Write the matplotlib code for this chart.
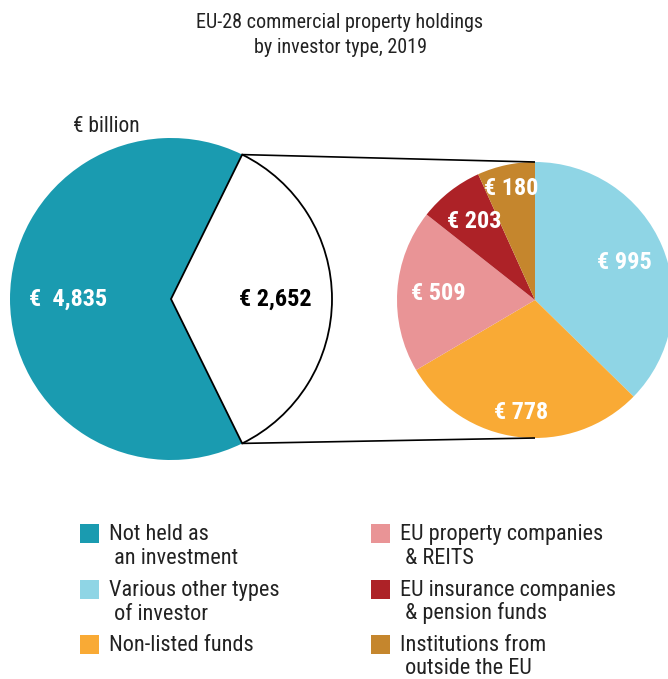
import matplotlib
matplotlib.use("Agg")
import matplotlib.pyplot as plt
from matplotlib.patches import Rectangle
import numpy as np

# ---- data ----
left_labels = ["Not held as an investment", "Held as an investment"]
left_values = [4835, 2652]
left_colors = ["#1a9bb0", "#ffffff"]

right_values = [995, 778, 509, 203, 180]
right_colors = ["#8fd5e5", "#f9aa35", "#e99496", "#ad2227", "#c5862d"]

legend_labels = ["Not held as\n an investment", "Various other types\n of investor",
                 "Non-listed funds", "EU property companies\n & REITS",
                 "EU insurance companies\n & pension funds", "Institutions from\n outside the EU"]
legend_colors = ["#1a9bb0", "#8fd5e5", "#f9aa35", "#e99496", "#ad2227", "#c5862d"]

title = "EU-28 commercial property holdings\nby investor type, 2019"
unit = "€ billion"

W, H = 668, 679
REG = ["Roboto Condensed", "DejaVu Sans"]
BOLD = ["Roboto Condensed", "DejaVu Sans"]

fig = plt.figure(figsize=(W / 100, H / 100), dpi=100)
ax = fig.add_axes([0, 0, 1, 1])

def py(y):
    return H - y

# left pie
c1 = (171, py(299)); r1 = 161
start1 = 180 * left_values[1] / sum(left_values)
w1, _ = ax.pie(left_values, colors=left_colors, center=c1, radius=r1,
               startangle=start1, counterclock=True,
               wedgeprops=dict(linewidth=0))
w1[1].set_edgecolor("black"); w1[1].set_linewidth(1.3)

# right pie
c2 = (535, py(300)); r2 = 138
w2, _ = ax.pie(right_values, colors=right_colors, center=c2, radius=r2,
               startangle=90, counterclock=False,
               wedgeprops=dict(linewidth=0))

# connecting lines
wt = w1[1]
for th, yy in [(wt.theta2, c2[1] + r2), (wt.theta1, c2[1] - r2)]:
    x0 = c1[0] + r1 * np.cos(np.radians(th))
    y0 = c1[1] + r1 * np.sin(np.radians(th))
    ax.plot([x0, c2[0]], [y0, yy], color="black", lw=1.2, solid_capstyle="butt")

# labels
def mid(w):
    return np.radians((w.theta1 + w.theta2) / 2)

LS = 17.5
ax.text(c1[0] + 0.64 * r1 * np.cos(mid(w1[0])), c1[1] + 0.64 * r1 * np.sin(mid(w1[0])),
        f"€  {left_values[0]:,}", color="white", fontsize=LS, fontweight="bold",
        family=BOLD, ha="center", va="center")
ax.text(c1[0] + 0.65 * r1 * np.cos(mid(w1[1])), c1[1] + 0.65 * r1 * np.sin(mid(w1[1])),
        f"€ {left_values[1]:,}", color="black", fontsize=LS, fontweight="bold",
        family=BOLD, ha="center", va="center")
rfrac = [0.70, 0.82, 0.70, 0.72, 0.83]
for w, v, f in zip(w2, right_values, rfrac):
    a = mid(w)
    ax.text(c2[0] + f * r2 * np.cos(a), c2[1] + f * r2 * np.sin(a), f"€ {v:,}",
            color="white", fontsize=LS, fontweight="bold", family=BOLD,
            ha="center", va="center")

# title and unit
ax.text(340, py(35), title, fontsize=14.5, family=REG, ha="center", va="center",
        linespacing=1.35, color="#222222")
ax.text(73, py(126), unit, fontsize=15.5, family=REG, ha="left", va="center", color="#222222")

# legend
cols_x = [(80, 109), (371, 400)]
rows_y = [540, 596, 651]   # baseline of first line
for i, (lab, col) in enumerate(zip(legend_labels, legend_colors)):
    cx, tx = cols_x[i // 3]
    by = rows_y[i % 3]
    ax.add_patch(Rectangle((cx, py(by + 3)), 19, 19, facecolor=col, edgecolor="none"))
    for j, line in enumerate(lab.split("\n")):
        ax.text(tx, py(by + j * 23.5), line, fontsize=16, family=REG,
                ha="left", va="baseline", color="#222222")

ax.set_xlim(0, W)
ax.set_ylim(0, H)
ax.set_aspect("equal")
ax.axis("off")
fig.savefig("out.png", dpi=100)
